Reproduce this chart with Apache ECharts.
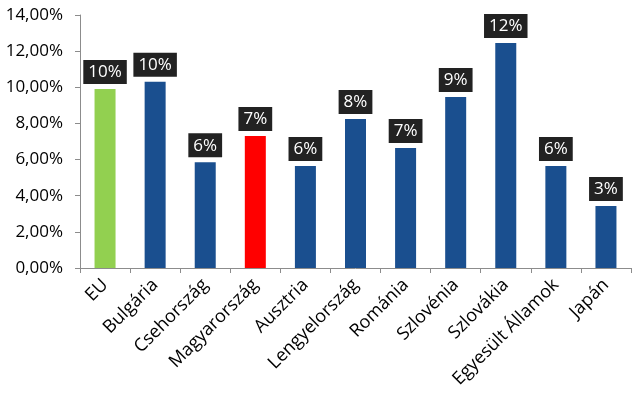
<!DOCTYPE html>
<html>
<head>
<meta charset="utf-8">
<script src="https://cdn.jsdelivr.net/npm/echarts@6/dist/echarts.min.js"></script>
<style>
  html, body { margin: 0; padding: 0; background: #fff; }
  #chart { width: 640px; height: 398px; }
</style>
</head>
<body>
<div id="chart"></div>
<script>
const countries = ['EU', 'Bulgária', 'Csehország', 'Magyarország', 'Ausztria', 'Lengyelország', 'Románia', 'Szlovénia', 'Szlovákia', 'Egyesült Államok', 'Japán'];
const rates = [9.9, 10.3, 5.85, 7.3, 5.64, 8.25, 6.64, 9.46, 12.45, 5.64, 3.43];
const barColors = ['#92D050', '#1A4F8F', '#1A4F8F', '#FF0000', '#1A4F8F', '#1A4F8F', '#1A4F8F', '#1A4F8F', '#1A4F8F', '#1A4F8F', '#1A4F8F'];

const fontName = '"Open Sans", sans-serif';

const getOptionChart = () => {
  return {
    animation: false,
    grid: { left: 80, right: 9, top: 15, bottom: 130, containLabel: false },
    xAxis: {
      type: 'category',
      data: countries,
      axisLine: { lineStyle: { color: '#8c8c8c', width: 1 } },
      axisTick: { show: true, length: 5, lineStyle: { color: '#8c8c8c' } },
      axisLabel: {
        rotate: 45,
        interval: 0,
        margin: 14,
        color: '#000',
        fontSize: 18,
        fontFamily: fontName
      }
    },
    yAxis: {
      type: 'value',
      min: 0,
      max: 14,
      interval: 2,
      axisLine: { show: true, lineStyle: { color: '#8c8c8c', width: 1 } },
      axisTick: { show: true, length: 5, lineStyle: { color: '#8c8c8c' } },
      splitLine: { show: false },
      axisLabel: {
        margin: 17,
        color: '#000',
        fontSize: 17,
        fontFamily: fontName,
        formatter: (v) => v.toFixed(2).replace('.', ',') + '%'
      }
    },
    series: [
      {
        type: 'bar',
        barWidth: 21,
        data: rates.map((v, i) => ({ value: v, itemStyle: { color: barColors[i] } })),
        label: {
          show: true,
          position: 'top',
          distance: 5,
          color: '#fff',
          fontSize: 17,
          fontFamily: fontName,
          backgroundColor: '#222222',
          padding: [4, 5, 3, 5],
          formatter: (p) => Math.round(p.value) + '%'
        }
      }
    ]
  };
};

const initCharts = () => {
  const chart = echarts.init(document.querySelector('#chart'));
  chart.setOption(getOptionChart());
};

window.addEventListener('load', () => {
  initCharts();
});
</script>
</body>
</html>
